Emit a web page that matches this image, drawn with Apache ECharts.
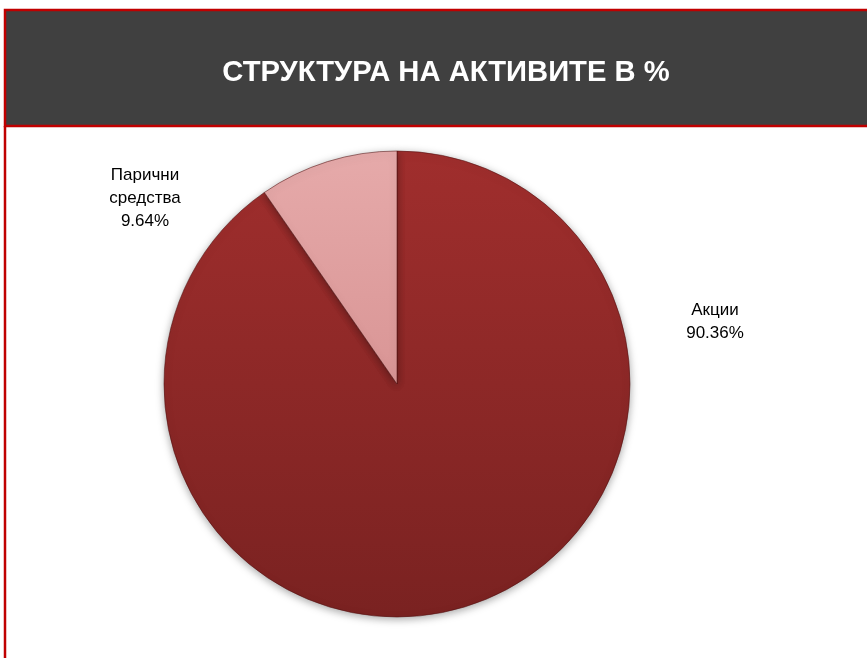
<!DOCTYPE html>
<html><head><meta charset="utf-8">
<script src="https://cdn.jsdelivr.net/npm/echarts@6/dist/echarts.min.js"></script>
<style>html,body{margin:0;padding:0;background:#fff}#c{width:867px;height:658px}</style>
</head><body><div id="c"></div>
<script>
const titleText = 'СТРУКТУРА НА АКТИВИТЕ В %';
const categories = ['Акции', 'Парични\nсредства'];
const values = [90.36, 9.64];
const labelPos = [[715, 322], [145, 198]];

const chart = echarts.init(document.getElementById('c'));
const grad = (a, b) => new echarts.graphic.LinearGradient(0, 0, 0, 1, [{offset: 0, color: a}, {offset: 1, color: b}]);
const colors = [grad('#a02e2d', '#7a2221'), grad('#e6aaaa', '#d99595')];

chart.setOption({
  animation: false,
  title: {
    text: titleText, left: 441, top: 53, textAlign: 'center',
    textStyle: {color: '#ffffff', fontFamily: 'Liberation Sans, Arial', fontWeight: 'bold', fontSize: 29.2}
  },
  graphic: [
    {type: 'rect', shape: {x: 5, y: 10, width: 870, height: 116}, style: {fill: '#404040', stroke: '#c00000', lineWidth: 2.5}, z: -10},
    {type: 'line', shape: {x1: 5, y1: 126, x2: 5, y2: 660}, style: {stroke: '#c00000', lineWidth: 2.5}, z: -10}
  ],
  series: [{
    type: 'pie',
    center: [397, 384],
    radius: 233,
    startAngle: 90,
    clockwise: true,
    itemStyle: {borderColor: 'rgba(80,15,15,0.55)', borderWidth: 1, shadowBlur: 8, shadowColor: 'rgba(0,0,0,0.35)', shadowOffsetY: 2},
    label: {
      show: true, position: 'outside', color: '#000', fontFamily: 'Liberation Sans, Arial', fontSize: 17, lineHeight: 23,
      align: 'center',
      formatter: p => p.name + '\n' + p.value.toFixed(2) + '%'
    },
    labelLine: {show: false},
    labelLayout: p => ({x: labelPos[p.dataIndex][0], y: labelPos[p.dataIndex][1], align: 'center', verticalAlign: 'middle'}),
    data: categories.map((n, i) => ({name: n, value: values[i], itemStyle: {color: colors[i]}}))
  }]
});
</script></body></html>
